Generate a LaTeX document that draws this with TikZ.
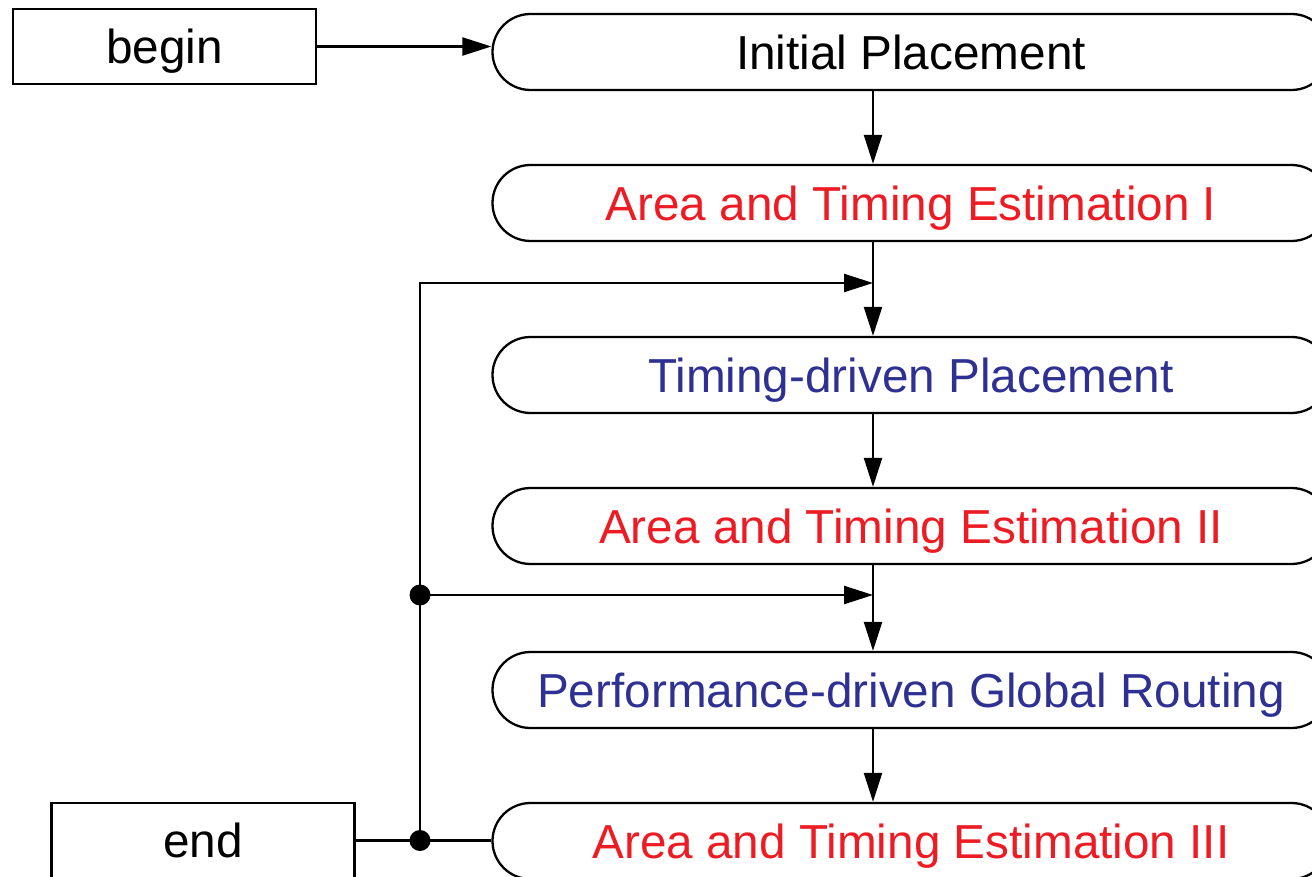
\documentclass[tikz,border=0pt]{standalone}
\usepackage{fontspec}
\setmainfont{Liberation Sans}
\usetikzlibrary{shapes.misc,arrows.meta}
\definecolor{myred}{RGB}{237,28,36}
\definecolor{myblue}{RGB}{46,49,146}
\begin{document}
\begin{tikzpicture}[x=0.5pt,y=-0.5pt,
  every node/.style={font=\fontsize{23.85}{28}\selectfont, text height=17.1pt, text depth=0pt, inner sep=0pt, line width=1.15pt},
  pill/.style={draw, rounded rectangle, minimum width=418.5pt, minimum height=38pt},
  plainbox/.style={draw, rectangle, minimum width=151.5pt, minimum height=37.5pt},
  arr/.style={-{Triangle[length=14.5pt,width=9pt]}},
  dot/.style={fill=black},
  line width=1.15pt]
\useasboundingbox (0,0) rectangle (1312,877);
\node[plainbox] (begin) at (164.5,46.5) {begin};
\node[plainbox] (end) at (203,840.5) {end};
\node[pill] (ip) at (911,52) {Initial Placement};
\node[pill, text=myred] (a1) at (911,203) {Area and Timing Estimation I};
\node[pill, text=myblue] (tp) at (911,375) {Timing-driven Placement};
\node[pill, text=myred] (a2) at (911,526) {Area and Timing Estimation II};
\node[pill, text=myblue] (pr) at (911,690) {Performance-driven Global Routing};
\node[pill, text=myred] (a3) at (911,841) {Area and Timing Estimation III};
\coordinate (ax) at (873,0);
\coordinate (j1) at (873,283);
\coordinate (j2) at (873,595);
\coordinate (d1) at (420,595);
\coordinate (d2) at (420,840.5);
\draw[arr] (begin.east) -- (begin.east -| ip.west);
\draw[arr] (ip.south -| ax) -- (a1.north -| ax);
\draw[arr] (a1.south -| ax) -- (tp.north -| ax);
\draw[arr] (tp.south -| ax) -- (a2.north -| ax);
\draw[arr] (a2.south -| ax) -- (pr.north -| ax);
\draw[arr] (pr.south -| ax) -- (a3.north -| ax);
\draw (end.east) -- (end.east -| a3.west);
\draw[arr] (d2) |- (j1);
\draw[arr] (d1) -- (j2);
\fill[dot] (d1) circle[radius=5.25pt];
\fill[dot] (d2) circle[radius=5.25pt];
\end{tikzpicture}
\end{document}
